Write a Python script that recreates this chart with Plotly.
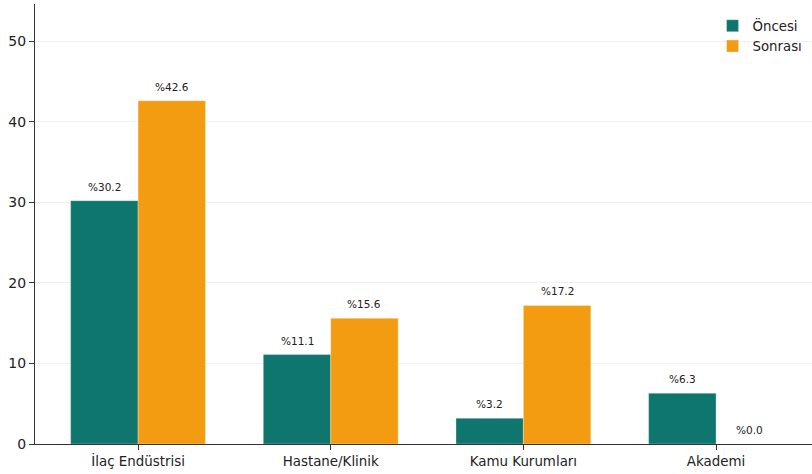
import plotly.graph_objects as go

# Sector shares (%) before and after
categories = ["İlaç Endüstrisi", "Hastane/Klinik", "Kamu Kurumları", "Akademi"]
series_names = ["Öncesi", "Sonrası"]
before = [30.2, 11.1, 3.2, 6.3]
after = [42.6, 15.6, 17.2, 0.0]
y_ticks = [0, 10, 20, 30, 40, 50]

colors = ["#0f766e", "#f39c12"]
bar_w = 0.35
pos = list(range(len(categories)))

fig = go.Figure()
for k, (name, vals) in enumerate(zip(series_names, [before, after])):
    off = (k - 0.5) * bar_w
    fig.add_trace(go.Bar(
        x=[p + off for p in pos], y=vals, width=bar_w, name=name,
        marker=dict(color=colors[k], line=dict(color="rgba(255,255,255,0.6)", width=0.5)),
    ))
    for p, v in zip(pos, vals):
        fig.add_annotation(
            x=p + off, y=v, text=f"%{v:.1f}", showarrow=False,
            yanchor="middle", yshift=14,
            font=dict(family="DejaVu Sans", size=10.5, color="#222"),
        )

fig.update_layout(
    width=812, height=474,
    margin=dict(l=35, r=0, t=4, b=30),
    paper_bgcolor="white", plot_bgcolor="white",
    barmode="overlay",
    font=dict(family="DejaVu Sans", size=13, color="#222"),
    showlegend=True,
    legend=dict(
        x=0.872, y=0.985, xanchor="left", yanchor="top",
        bgcolor="rgba(255,255,255,0)", font=dict(size=13.3, color="#222"),
        itemwidth=30, tracegroupgap=0,
    ),
)
fig.update_xaxes(
    range=[-0.535, 3.498], tickvals=pos, ticktext=categories,
    showline=True, linecolor="#333", linewidth=1,
    ticks="outside", ticklen=5, tickcolor="#333", tickwidth=1,
    showgrid=False, zeroline=False, tickfont=dict(size=13.4),
)
fig.update_yaxes(
    range=[0, 54.6], tickvals=y_ticks,
    showline=True, linecolor="#333", linewidth=1,
    ticks="outside", ticklen=5, tickcolor="#333", tickwidth=1,
    showgrid=True, gridcolor="#f0f0f0", gridwidth=1,
    zeroline=False, tickfont=dict(size=14),
)

fig.write_html("out.html")
